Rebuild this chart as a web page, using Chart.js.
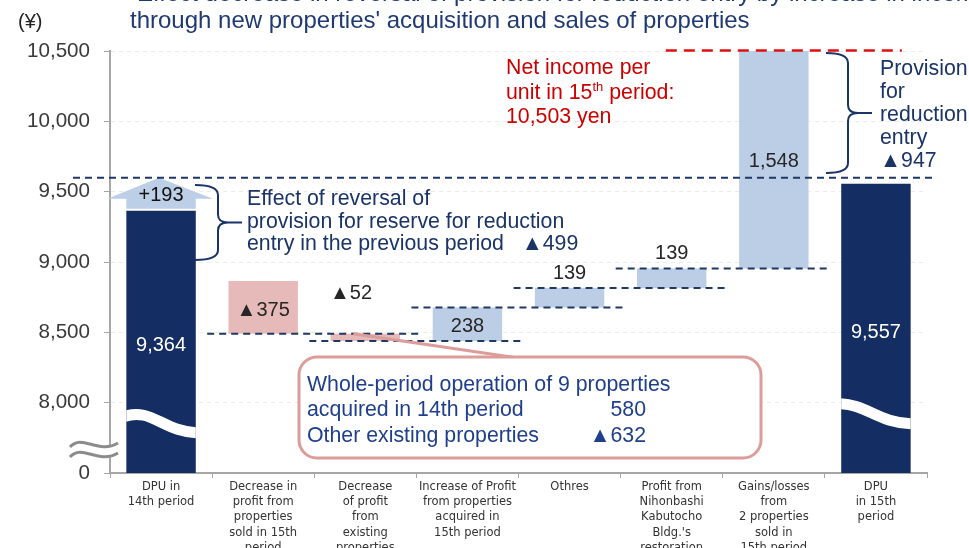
<!DOCTYPE html>
<html>
<head>
<meta charset="utf-8">
<script src="https://cdn.jsdelivr.net/npm/chart.js@4.4.0/dist/chart.umd.min.js"></script>
<style>
  html, body { margin: 0; padding: 0; background: #fff; }
  #wrap { width: 969px; height: 548px; }
</style>
</head>
<body>
<div id="wrap"><canvas id="waterfall" width="969" height="548"></canvas></div>
<script>
var categories = [
  ["DPU in", "14th period"],
  ["Decrease in", "profit from", "properties", "sold in 15th", "period"],
  ["Decrease", "of profit", "from", "existing", "properties"],
  ["Increase of Profit", "from properties", "acquired in", "15th period"],
  ["Othres"],
  ["Profit from", "Nihonbashi", "Kabutocho", "Bldg.'s", "restoration"],
  ["Gains/losses", "from", "2 properties", "sold in", "15th period"],
  ["DPU", "in 15th", "period"]
];
var dpu14 = 9364;
var reversalPrev = -499;     // reversal of provision in previous period
var reversalArrow = 193;
var changes = [-375, -52, 238, 139, 139, 1548];
var provision = -947;
var dpu15 = 9557;
var netIncome = 10503;
var existingSplit = [580, -632];

var yTickValues = [7500, 8000, 8500, 9000, 9500, 10000, 10500];
var yTickLabels = ["0", "8,000", "8,500", "9,000", "9,500", "10,000", "10,500"];

var barColors = ["#142d62", "#e6bab9", "#e6bab9", "#bccee5", "#bccee5", "#bccee5", "#bccee5", "#142d62"];

// floating bars for the waterfall
var floor = yTickValues[0];
var bars = [[floor, dpu14]];
var level = dpu14 + reversalPrev;
changes.forEach(function (c) {
  bars.push([level, level + c]);
  level += c;
});
bars.push([floor, dpu15]);

function fmt(v) {
  var s = Math.abs(v).toLocaleString("en-US");
  return v < 0 ? "\u25B2" + s : s;
}

var FONT = "'Liberation Sans', Arial, sans-serif";
var NAVY = "#1b3468";
var NOTE = 21.3;

var decor = {
  id: "decor",
  afterDatasetsDraw: function (chart) {
    var ctx = chart.ctx, xs = chart.scales.x, ys = chart.scales.y;
    var el = chart.getDatasetMeta(0).data;
    var y8000 = ys.getPixelForValue(8000);

    ctx.save();

    // white wave cut across the two DPU bars
    function wave(b, dl, dr, hump) {
      var l = b.x - b.width / 2, r = b.x + b.width / 2, w = r - l;
      ctx.save();
      ctx.beginPath();
      ctx.rect(l, y8000 - 40, w, 80);
      ctx.clip();
      ctx.strokeStyle = "#fff";
      ctx.lineWidth = 11;
      ctx.beginPath();
      ctx.moveTo(l - 2, y8000 + dl);
      ctx.bezierCurveTo(l + 0.35 * w, y8000 + dl - hump, l + 0.55 * w, y8000 + dr, r + 2, y8000 + dr);
      ctx.stroke();
      ctx.restore();
    }
    wave(el[0], 14, 30, 10);
    wave(el[7], 1, 21, 0);

    // axis break mark
    var bx0 = 70, bx1 = 118, by = 441;
    ctx.fillStyle = "#fff";
    ctx.beginPath();
    ctx.moveTo(bx0, by + 6);
    ctx.bezierCurveTo(bx0 + 12, by - 8, bx0 + 28, by + 14, bx1, by + 2);
    ctx.lineTo(bx1, by + 12);
    ctx.bezierCurveTo(bx0 + 28, by + 24, bx0 + 12, by + 2, bx0, by + 16);
    ctx.closePath();
    ctx.fill();
    ctx.strokeStyle = "#8c8c8c";
    ctx.lineWidth = 3;
    [0, 10].forEach(function (d) {
      ctx.beginPath();
      ctx.moveTo(bx0, by + 6 + d);
      ctx.bezierCurveTo(bx0 + 12, by - 8 + d, bx0 + 28, by + 14 + d, bx1, by + 2 + d);
      ctx.stroke();
    });

    // up arrow for +193
    var a = el[0], al = a.x - a.width / 2, ar = a.x + a.width / 2;
    var yb = ys.getPixelForValue(dpu14) - 2;
    var yTip = ys.getPixelForValue(dpu14 + reversalArrow) - 6;
    var yHead = yb - 10;
    ctx.fillStyle = "#bccfe6";
    ctx.beginPath();
    ctx.moveTo(al, yb);
    ctx.lineTo(al, yHead);
    ctx.lineTo(al - 19, yHead);
    ctx.lineTo(a.x - 2, yTip);
    ctx.lineTo(ar + 17, yHead);
    ctx.lineTo(ar, yHead);
    ctx.lineTo(ar, yb);
    ctx.closePath();
    ctx.fill();

    // dashed connectors
    ctx.strokeStyle = "#1f3864";
    ctx.lineWidth = 2;
    ctx.setLineDash([7, 5]);
    function hline(x1, x2, y) {
      ctx.beginPath();
      ctx.moveTo(x1, y);
      ctx.lineTo(x2, y);
      ctx.stroke();
    }
    hline(73, 935, yTip);
    for (var k = 1; k <= 5; k++) {
      hline(xs.getPixelForValue(k) - 56, xs.getPixelForValue(k + 1) + 56, ys.getPixelForValue(bars[k][1]));
    }
    ctx.strokeStyle = "#e01010";
    ctx.lineWidth = 2.5;
    ctx.setLineDash([11, 7]);
    var c6 = xs.getPixelForValue(6);
    hline(c6 - 108, c6 + 128, ys.getPixelForValue(netIncome));
    ctx.setLineDash([]);

    // curly braces
    function brace(x0, x1, x2, yt, yb2) {
      var ym = (yt + yb2) / 2, r = 8;
      ctx.beginPath();
      ctx.moveTo(x0, yt);
      ctx.quadraticCurveTo(x1, yt, x1, yt + r + 2);
      ctx.lineTo(x1, ym - r);
      ctx.quadraticCurveTo(x1, ym, x1 + r + 2, ym);
      ctx.lineTo(x2, ym);
      ctx.moveTo(x1 + r + 2, ym);
      ctx.quadraticCurveTo(x1, ym, x1, ym + r);
      ctx.lineTo(x1, yb2 - r - 2);
      ctx.quadraticCurveTo(x1, yb2, x0, yb2);
      ctx.stroke();
    }
    ctx.strokeStyle = NAVY;
    ctx.lineWidth = 2;
    brace(195, 218, 242, 185, 260);
    brace(826, 848, 872, 53, 173);

    // callout box with pointer
    ctx.strokeStyle = "#dc9c9a";
    ctx.lineWidth = 3;
    var b2 = el[2];
    ctx.beginPath();
    ctx.moveTo(b2.x - 12, ys.getPixelForValue(bars[2][0]));
    ctx.lineTo(518, 358);
    ctx.stroke();
    ctx.fillStyle = "#fff";
    ctx.beginPath();
    ctx.roundRect(299, 357, 462, 101, 18);
    ctx.fill();
    ctx.stroke();

    // texts
    function txt(s, x, y, size, color, align) {
      ctx.font = size + "px " + FONT;
      ctx.fillStyle = color;
      ctx.textAlign = align || "left";
      ctx.textBaseline = "alphabetic";
      ctx.fillText(s, x, y);
    }
    var dark = "#262626";
    txt("+193", a.x, 201, 20, "#111", "center");
    txt(fmt(dpu14), el[0].x, 351, 20, "#fff", "center");
    txt(fmt(changes[0]), el[1].x, 316, 20, dark, "center");
    txt(fmt(changes[1]), 330, 299, 20, dark);
    txt(fmt(changes[2]), el[3].x, 332, 20, dark, "center");
    txt(fmt(changes[3]), el[4].x, 279, 20, dark, "center");
    txt(fmt(changes[4]), el[5].x, 259, 20, dark, "center");
    txt(fmt(changes[5]), el[6].x, 167, 20, dark, "center");
    txt(fmt(dpu15), el[7].x, 338, 20, "#fff", "center");

    txt("(\u00A5)", 18, 28, 20, "#222");
    txt("Effect decrease in reversal of provision for reduction entry by increase in income", 137, 1, 24, "#1f3a73");
    txt("through new properties' acquisition and sales of properties", 130, 28, 24, "#1f3a73");

    txt("Effect of reversal of", 247, 205, NOTE, NAVY);
    txt("provision for reserve for reduction", 247, 228, NOTE, NAVY);
    txt("entry in the previous period   " + fmt(reversalPrev), 247, 250, NOTE, NAVY);

    var red = "#cc0000";
    txt("Net income per", 506, 74, NOTE, red);
    ctx.font = NOTE + "px " + FONT;
    var w1 = ctx.measureText("unit in 15").width;
    txt("unit in 15", 506, 99, NOTE, red);
    txt("th", 506 + w1, 91, 13, red);
    ctx.font = "13px " + FONT;
    var w2 = ctx.measureText("th").width;
    txt(" period:", 506 + w1 + w2, 99, NOTE, red);
    txt(netIncome.toLocaleString("en-US") + " yen", 506, 123, NOTE, red);

    txt("Provision", 880, 75, NOTE, NAVY);
    txt("for", 880, 98, NOTE, NAVY);
    txt("reduction", 880, 121, NOTE, NAVY);
    txt("entry", 880, 144, NOTE, NAVY);
    txt(fmt(provision), 880, 167, NOTE, NAVY);

    var boxBlue = "#1f3f8c";
    txt("Whole-period operation of 9 properties", 307, 391, NOTE, boxBlue);
    txt("acquired in 14th period", 307, 416, NOTE, boxBlue);
    txt(fmt(existingSplit[0]), 646, 416, NOTE, boxBlue, "right");
    txt("Other existing properties", 307, 442, NOTE, boxBlue);
    txt(fmt(existingSplit[1]), 646, 442, NOTE, boxBlue, "right");

    ctx.restore();
  }
};

new Chart("waterfall", {
  type: "bar",
  data: {
    labels: categories,
    datasets: [{
      data: bars,
      backgroundColor: barColors,
      borderWidth: 0,
      barPercentage: 0.68,
      categoryPercentage: 1.0
    }]
  },
  options: {
    responsive: false,
    animation: false,
    layout: { padding: { left: 0, right: 42, top: 51, bottom: 0 } },
    plugins: {
      legend: { display: false },
      tooltip: { enabled: false }
    },
    scales: {
      x: {
        afterFit: function (s) { s.height = 75; },
        grid: { drawOnChartArea: false, color: "#a6a6a6", tickLength: 5, offset: true },
        border: { color: "#a6a6a6", width: 2 },
        ticks: {
          autoSkip: false,
          maxRotation: 0,
          padding: 1,
          color: "#333",
          font: { family: "'DejaVu Sans', sans-serif", size: 11.5, lineHeight: 1.33 }
        }
      },
      y: {
        min: yTickValues[0],
        max: yTickValues[yTickValues.length - 1],
        afterFit: function (s) { s.width = 110; },
        afterBuildTicks: function (s) {
          s.ticks = yTickValues.map(function (v) { return { value: v }; });
        },
        grid: { color: "#ebebeb", tickColor: "#a6a6a6", tickLength: 6, tickBorderDash: [] },
        border: { color: "#a6a6a6", width: 2, dash: [4, 4] },
        ticks: {
          padding: 14,
          color: "#3a3a3a",
          font: { family: FONT, size: 20.6 },
          callback: function (v, i) { return yTickLabels[i]; }
        }
      }
    }
  },
  plugins: [decor]
});
</script>
</body>
</html>
